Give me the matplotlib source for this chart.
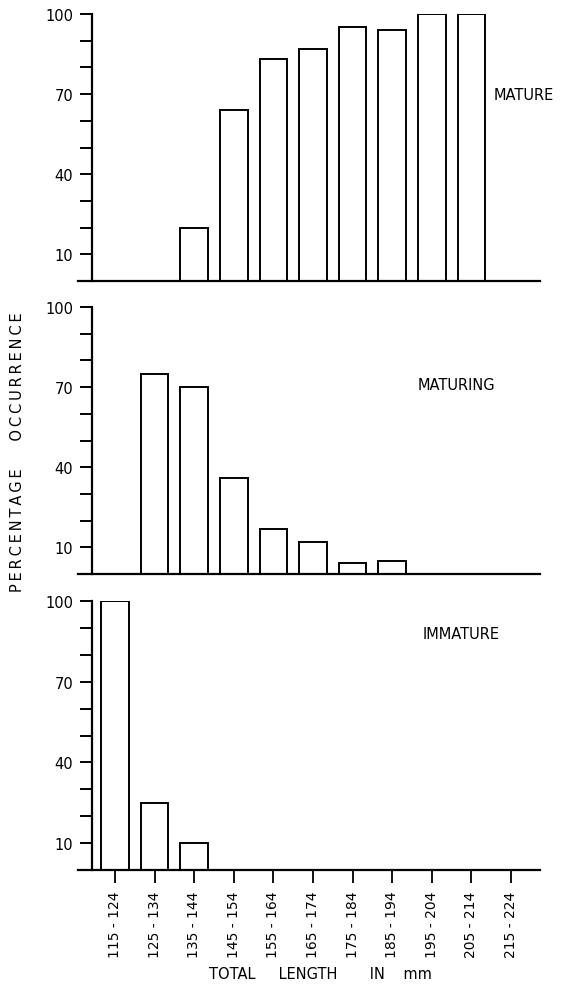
import numpy as np
import matplotlib
matplotlib.use("Agg")
import matplotlib.pyplot as plt

# length classes (mm)
classes = ["115 - 124", "125 - 134", "135 - 144", "145 - 154", "155 - 164",
           "165 - 174", "175 - 184", "185 - 194", "195 - 204", "205 - 214",
           "215 - 224"]

# percentage occurrence for each maturity stage
mature = [0, 0, 20, 64, 83, 87, 95, 94, 100, 100, 0]
maturing = [0, 75, 70, 36, 17, 12, 4, 5, 0, 0, 0]
immature = [100, 25, 10, 0, 0, 0, 0, 0, 0, 0, 0]

stages = ["MATURE", "MATURING", "IMMATURE"]
label_pos = [(9.55, 70), (7.63, 71), (7.78, 88)]

plt.rcParams['font.family'] = ['DejaVu Sans']

W, H = 565, 987
fig = plt.figure(figsize=(W / 100, H / 100), dpi=100)

# axes boxes in pixels: (baseline y, top y)
boxes = [(282, 15), (575, 308), (871, 602)]
x0, x1 = 78, 540
c0, step = 115, 39.6
xlim = ((x0 - c0) / step, (x1 - c0) / step)
spine_x = (92 - c0) / step

x = np.arange(len(classes))
lw = 1.6

for i, (vals, name) in enumerate(zip([mature, maturing, immature], stages)):
    base, top = boxes[i]
    ax = fig.add_axes([x0 / W, 1 - base / H, (x1 - x0) / W, (base - top) / H])
    ax.bar(x, vals, width=0.7, facecolor="white", edgecolor="black", linewidth=1.4, zorder=3)
    ax.set_xlim(*xlim)
    ax.set_ylim(0, 100)

    for s in ["top", "right"]:
        ax.spines[s].set_visible(False)
    ax.spines["left"].set_position(("data", spine_x))
    ax.spines["left"].set_linewidth(lw)
    ax.spines["bottom"].set_linewidth(lw)
    ax.spines["bottom"].set_zorder(4)

    ax.set_yticks([10, 40, 70, 100])
    ax.set_yticks([20, 30, 50, 60, 80, 90], minor=True)
    ax.tick_params(axis="y", which="both", direction="out", length=8.5, width=1.4,
                   labelsize=10.5, pad=5)

    if i < 2:
        ax.set_xticks([])
    else:
        ax.set_xticks(x)
        ax.set_xticklabels(classes, rotation=90, fontsize=10)
        ax.tick_params(axis="x", direction="out", length=9, width=1.3, pad=6)

    lx, ly = label_pos[i]
    ax.text(lx, ly, name, fontsize=10.5, ha="left", va="center")

sp = "\u2009"
ylab = sp.join("PERCENTAGE") + "      " + sp.join("OCCURRENCE")
fig.text(18 / W, 1 - 452 / H, ylab, rotation=90, ha="center", va="center", fontsize=10.5)
fig.text(320 / W, 1 - 975 / H, "TOTAL     LENGTH       IN    mm", ha="center", va="center", fontsize=10.5)

fig.savefig("out.png", dpi=100)
